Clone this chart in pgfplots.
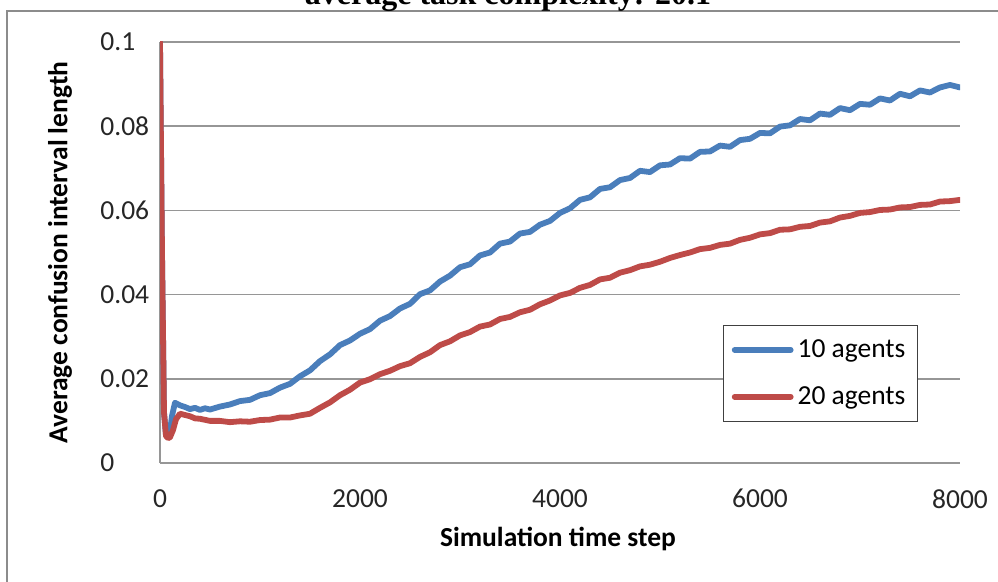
\documentclass[border=0pt]{standalone}
\usepackage{fontspec}
\setmainfont{Carlito}
\newfontfamily\titlefont{Liberation Serif}
\usepackage{pgfplots}
\pgfplotsset{compat=1.18}

\definecolor{blueline}{RGB}{74,126,187}
\definecolor{redline}{RGB}{190,75,72}
\definecolor{gridgray}{RGB}{150,150,150}
\definecolor{framegray}{RGB}{140,140,140}

\begin{document}
\begin{tikzpicture}
  % outer chart frame (cut off at right and bottom)
  \draw[framegray, line width=0.75pt] (3.5pt,-20pt) -- (3.5pt,285.5pt) -- (520pt,285.5pt);
  % title, cut off at the top
  \node[anchor=base, inner sep=0pt, font=\titlefont\bfseries\fontsize{16}{19}\selectfont]
    at (254pt,288.5pt) {average task complexity: 20.1};

  \begin{axis}[
      at={(80pt,59.5pt)}, anchor=south west,
      scale only axis,
      width=400pt, height=210.5pt,
      xmin=0, xmax=8000, ymin=0, ymax=0.1,
      axis lines*=left,
      axis line style={gridgray, line width=0.75pt},
      major tick length=0pt,
      ymajorgrids,
      grid style={gridgray, line width=0.75pt},
      xtick={0,2000,4000,6000,8000},
      xticklabels={0,2000,4000,6000,8000},
      ytick={0,0.02,0.04,0.06,0.08,0.1},
      yticklabels={0,0.02,0.04,0.06,0.08,0.1},
      tick label style={font=\fontsize{13.75}{16}\selectfont, text=black!85},
      xticklabel style={anchor=north, inner sep=0pt, yshift=-13pt},
      yticklabel style={anchor=west, inner sep=0pt, xshift=-30pt},
      xlabel={Simulation time step},
      ylabel={Average confusion interval length},
      label style={font=\bfseries\fontsize{13.75}{16}\selectfont},
      xlabel style={at={(rel axis cs:0.4975,0)}, anchor=base, inner sep=0pt, yshift=-42pt},
      ylabel style={at={(rel axis cs:0,0.5)}, anchor=center, inner sep=0pt, rotate=0, yshift=50pt},
      legend style={at={(rel axis cs:0.704,0.328)}, anchor=north west,
        draw=black!75, line width=0.6pt, fill=white,
        font=\fontsize{13.75}{16}\selectfont,
        inner xsep=4pt, inner ysep=5pt, row sep=9pt},
      legend cell align=left,
      legend image code/.code={\draw[#1] (0pt,0pt) -- (28pt,0pt);},
      every axis plot/.append style={line width=2.9pt, line join=round, line cap=round},
    ]
    \addplot[blueline] coordinates {
      (0,0.1) (20,0.05) (40,0.012) (60,0.0066) (80,0.0062) (100,0.0075) (120,0.0112)
      (150,0.0143) (200,0.0137) (250,0.0133) (300,0.0128) (350,0.0131) (400,0.0126)
      (450,0.0130) (500,0.0127) (600,0.0134) (700,0.0139) (800,0.0147) (900,0.0150)
      (1000,0.0161) (1100,0.0166) (1200,0.0179) (1300,0.0188) (1400,0.0206) (1500,0.0220)
      (1600,0.0242) (1700,0.0258) (1800,0.0280) (1900,0.0291) (2000,0.0307) (2100,0.0318)
      (2200,0.0338) (2300,0.0349) (2400,0.0367) (2500,0.0378) (2600,0.0401) (2700,0.0410)
      (2800,0.0431) (2900,0.0445) (3000,0.0465) (3100,0.0472) (3200,0.0493) (3300,0.0500)
      (3400,0.0521) (3500,0.0526) (3600,0.0545) (3700,0.0549) (3800,0.0566) (3900,0.0575)
      (4000,0.0594) (4100,0.0605) (4200,0.0625) (4300,0.0631) (4400,0.0651) (4500,0.0655)
      (4600,0.0672) (4700,0.0677) (4800,0.0694) (4900,0.0691) (5000,0.0707) (5100,0.0709)
      (5200,0.0724) (5300,0.0723) (5400,0.0739) (5500,0.0740) (5600,0.0754) (5700,0.0751)
      (5800,0.0767) (5900,0.0770) (6000,0.0784) (6100,0.0783) (6200,0.0799) (6300,0.0802)
      (6400,0.0817) (6500,0.0814) (6600,0.0830) (6700,0.0827) (6800,0.0843) (6900,0.0838)
      (7000,0.0853) (7100,0.0851) (7200,0.0866) (7300,0.0861) (7400,0.0877) (7500,0.0871)
      (7600,0.0885) (7700,0.0880) (7800,0.0892) (7900,0.0898) (8000,0.0892)
    };
    \addlegendentry{10 agents}
    \addplot[redline] coordinates {
      (0,0.1) (20,0.05) (40,0.012) (60,0.0064) (80,0.0059) (100,0.0061) (130,0.0078)
      (160,0.0104) (200,0.0117) (250,0.0114) (300,0.0111) (350,0.0106) (400,0.0105)
      (500,0.0100) (600,0.0100) (700,0.0097) (800,0.0099) (900,0.0098) (1000,0.0102)
      (1100,0.0103) (1200,0.0108) (1300,0.0108) (1400,0.0113) (1500,0.0117) (1600,0.0131)
      (1700,0.0144) (1800,0.0161) (1900,0.0174) (2000,0.0191) (2100,0.0199) (2200,0.0211)
      (2300,0.0219) (2400,0.0230) (2500,0.0237) (2600,0.0252) (2700,0.0263) (2800,0.0280)
      (2900,0.0289) (3000,0.0303) (3100,0.0311) (3200,0.0324) (3300,0.0329) (3400,0.0342)
      (3500,0.0347) (3600,0.0358) (3700,0.0364) (3800,0.0377) (3900,0.0386) (4000,0.0398)
      (4100,0.0404) (4200,0.0416) (4300,0.0423) (4400,0.0436) (4500,0.0440) (4600,0.0452)
      (4700,0.0458) (4800,0.0467) (4900,0.0471) (5000,0.0478) (5100,0.0487) (5200,0.0494)
      (5300,0.0500) (5400,0.0508) (5500,0.0511) (5600,0.0518) (5700,0.0521) (5800,0.0530)
      (5900,0.0535) (6000,0.0543) (6100,0.0546) (6200,0.0554) (6300,0.0555) (6400,0.0561)
      (6500,0.0563) (6600,0.0571) (6700,0.0574) (6800,0.0583) (6900,0.0587) (7000,0.0594)
      (7100,0.0596) (7200,0.0601) (7300,0.0602) (7400,0.0607) (7500,0.0608) (7600,0.0613)
      (7700,0.0614) (7800,0.0621) (7900,0.0622) (8000,0.0625)
    };
    \addlegendentry{20 agents}
  \end{axis}

  \pgfresetboundingbox
  \path[use as bounding box] (0pt,0pt) rectangle (499pt,291pt);
\end{tikzpicture}
\end{document}
